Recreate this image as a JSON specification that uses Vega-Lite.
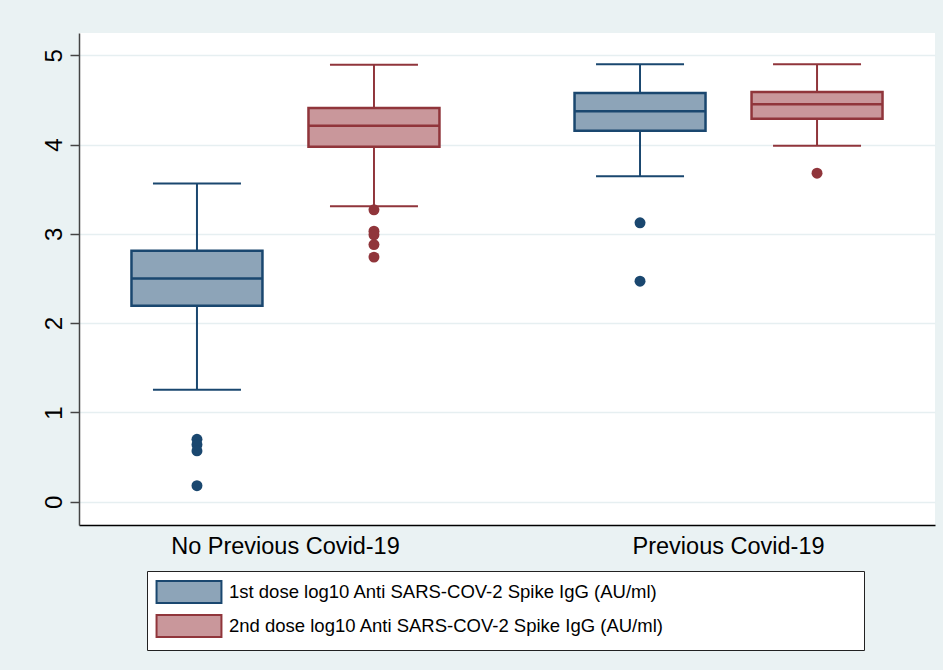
{
  "$schema": "https://vega.github.io/schema/vega-lite/v6.json",
  "width": 856,
  "height": 492,
  "autosize": {"type": "none"},
  "padding": {"left": 79, "top": 33, "right": 8, "bottom": 145},
  "background": "#EAF2F3",
  "config": {
    "font": "Liberation Sans",
    "view": {"fill": "white", "stroke": null},
    "legend": {
      "orient": "none",
      "legendX": 68,
      "legendY": 538,
      "direction": "vertical",
      "fillColor": "white",
      "strokeColor": "#222222",
      "padding": 9,
      "symbolType": "M-2.95,-1H2.95V1H-2.95Z M60.1,0",
      "symbolSize": 484,
      "symbolOffset": 21,
      "symbolStrokeWidth": 2,
      "labelFontSize": 18.5,
      "labelFont": "Liberation Sans",
      "labelColor": "black",
      "labelLimit": 0,
      "labelOffset": 28,
      "rowPadding": 4
    }
  },
  "datasets": {
    "stats": [
      {"group": "No Previous Covid-19", "dose": "1st dose log10 Anti SARS-COV-2 Spike IgG (AU/ml)", "lower": 1.254, "q1": 2.195, "median": 2.50, "q3": 2.81, "upper": 3.565},
      {"group": "No Previous Covid-19", "dose": "2nd dose log10 Anti SARS-COV-2 Spike IgG (AU/ml)", "lower": 3.31, "q1": 3.975, "median": 4.21, "q3": 4.41, "upper": 4.895},
      {"group": "Previous Covid-19", "dose": "1st dose log10 Anti SARS-COV-2 Spike IgG (AU/ml)", "lower": 3.647, "q1": 4.155, "median": 4.375, "q3": 4.577, "upper": 4.90},
      {"group": "Previous Covid-19", "dose": "2nd dose log10 Anti SARS-COV-2 Spike IgG (AU/ml)", "lower": 3.987, "q1": 4.29, "median": 4.453, "q3": 4.588, "upper": 4.90}
    ],
    "outliers": [
      {"group": "No Previous Covid-19", "dose": "1st dose log10 Anti SARS-COV-2 Spike IgG (AU/ml)", "value": 0.70},
      {"group": "No Previous Covid-19", "dose": "1st dose log10 Anti SARS-COV-2 Spike IgG (AU/ml)", "value": 0.64},
      {"group": "No Previous Covid-19", "dose": "1st dose log10 Anti SARS-COV-2 Spike IgG (AU/ml)", "value": 0.57},
      {"group": "No Previous Covid-19", "dose": "1st dose log10 Anti SARS-COV-2 Spike IgG (AU/ml)", "value": 0.18},
      {"group": "No Previous Covid-19", "dose": "2nd dose log10 Anti SARS-COV-2 Spike IgG (AU/ml)", "value": 3.27},
      {"group": "No Previous Covid-19", "dose": "2nd dose log10 Anti SARS-COV-2 Spike IgG (AU/ml)", "value": 3.03},
      {"group": "No Previous Covid-19", "dose": "2nd dose log10 Anti SARS-COV-2 Spike IgG (AU/ml)", "value": 2.99},
      {"group": "No Previous Covid-19", "dose": "2nd dose log10 Anti SARS-COV-2 Spike IgG (AU/ml)", "value": 2.88},
      {"group": "No Previous Covid-19", "dose": "2nd dose log10 Anti SARS-COV-2 Spike IgG (AU/ml)", "value": 2.74},
      {"group": "Previous Covid-19", "dose": "1st dose log10 Anti SARS-COV-2 Spike IgG (AU/ml)", "value": 3.124},
      {"group": "Previous Covid-19", "dose": "1st dose log10 Anti SARS-COV-2 Spike IgG (AU/ml)", "value": 2.47},
      {"group": "Previous Covid-19", "dose": "2nd dose log10 Anti SARS-COV-2 Spike IgG (AU/ml)", "value": 3.68}
    ]
  },
  "encoding": {
    "x": {
      "field": "group",
      "type": "nominal",
      "scale": {"paddingInner": 0.201, "paddingOuter": 0.0665},
      "axis": {
        "title": null,
        "labelAngle": 0,
        "labelFontSize": 23.5,
        "labelColor": "black",
        "labelPadding": 9,
        "labelLimit": 0,
        "ticks": false,
        "domainColor": "black",
        "domainWidth": 1.5,
        "grid": false
      }
    },
    "xOffset": {
      "field": "dose",
      "type": "nominal",
      "scale": {"paddingInner": 0.26, "paddingOuter": 0.13}
    }
  },
  "layer": [
    {
      "data": {"name": "stats"},
      "mark": {"type": "rule", "strokeWidth": 2},
      "encoding": {
        "y": {
          "field": "lower",
          "type": "quantitative",
          "scale": {"domain": [-0.26, 5.25], "nice": false, "zero": false},
          "axis": {
            "title": null,
            "values": [0, 1, 2, 3, 4, 5],
            "format": "d",
            "labelAngle": -90,
            "labelAlign": "center",
            "labelBaseline": "alphabetic",
            "labelFontSize": 24,
            "labelColor": "black",
            "labelPadding": 9,
            "tickSize": 9,
            "tickWidth": 1.5,
            "tickColor": "#444444",
            "domainColor": "#444444",
            "domainWidth": 1.5,
            "grid": true,
            "gridColor": "#E6EFF1",
            "gridWidth": 1.5
          }
        },
        "y2": {"field": "q1"},
        "color": {
          "field": "dose",
          "type": "nominal",
          "scale": {"range": ["#1A476F", "#90353B"]},
          "legend": null
        }
      }
    },
    {
      "data": {"name": "stats"},
      "mark": {"type": "rule", "strokeWidth": 2},
      "encoding": {
        "y": {"field": "q3", "type": "quantitative"},
        "y2": {"field": "upper"},
        "color": {"field": "dose", "type": "nominal", "legend": null}
      }
    },
    {
      "data": {"name": "stats"},
      "mark": {"type": "bar", "strokeWidth": 2.5},
      "encoding": {
        "y": {"field": "q1", "type": "quantitative"},
        "y2": {"field": "q3"},
        "fill": {
          "field": "dose",
          "type": "nominal",
          "title": null,
          "scale": {"range": ["#8DA4B8", "#C9979B"]}
        },
        "stroke": {
          "field": "dose",
          "type": "nominal",
          "title": null,
          "scale": {"range": ["#1A476F", "#90353B"]}
        }
      }
    },
    {
      "data": {"name": "stats"},
      "mark": {"type": "tick", "size": 131, "thickness": 2.5, "opacity": 1},
      "encoding": {
        "y": {"field": "median", "type": "quantitative"},
        "color": {"field": "dose", "type": "nominal", "legend": null}
      }
    },
    {
      "data": {"name": "stats"},
      "mark": {"type": "tick", "size": 88, "thickness": 2, "opacity": 1},
      "encoding": {
        "y": {"field": "lower", "type": "quantitative"},
        "color": {"field": "dose", "type": "nominal", "legend": null}
      }
    },
    {
      "data": {"name": "stats"},
      "mark": {"type": "tick", "size": 88, "thickness": 2, "opacity": 1},
      "encoding": {
        "y": {"field": "upper", "type": "quantitative"},
        "color": {"field": "dose", "type": "nominal", "legend": null}
      }
    },
    {
      "data": {"name": "outliers"},
      "mark": {"type": "circle", "size": 120, "opacity": 1},
      "encoding": {
        "y": {"field": "value", "type": "quantitative"},
        "color": {"field": "dose", "type": "nominal", "legend": null}
      }
    }
  ]
}
